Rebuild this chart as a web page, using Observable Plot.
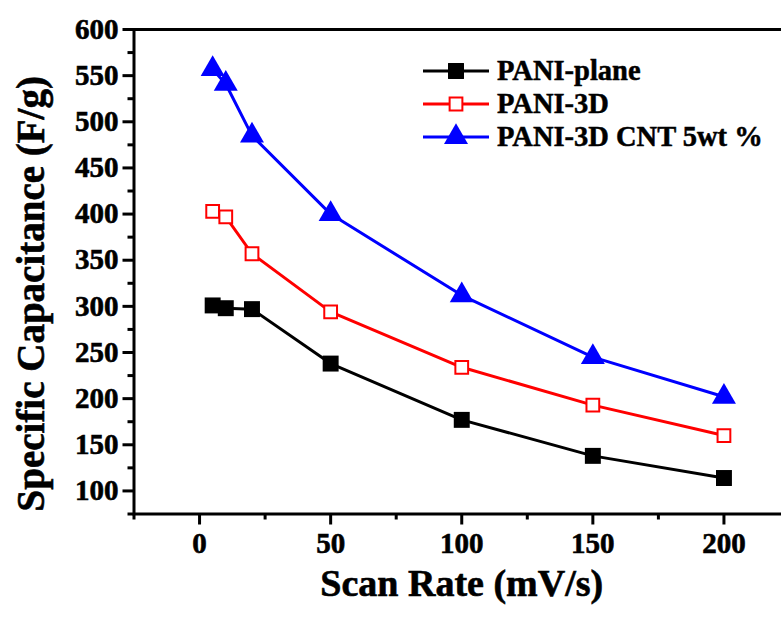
<!DOCTYPE html>
<html><head><meta charset="utf-8">
<script src="https://cdn.jsdelivr.net/npm/d3@7"></script>
<script src="https://cdn.jsdelivr.net/npm/@observablehq/plot@0.6"></script>
<style>
html,body{margin:0;padding:0;background:#fff;overflow:hidden;}
#wrap{position:relative;width:781px;height:617px;overflow:hidden;}
#chart svg text{stroke:#000;stroke-width:0.6px;}
#legend{position:absolute;left:421px;top:54px;font-family:"Liberation Serif","Times New Roman",serif;font-weight:bold;font-size:28.5px;color:#000;-webkit-text-stroke:0.5px #000;}
.row{display:flex;align-items:center;height:33.3px;}
.row svg{display:block;margin-right:7px;}
</style></head><body>
<div id="wrap"><div id="chart"></div><div id="legend"></div></div>
<script>
const scanRate = [5, 10, 20, 50, 100, 150, 200];
const planeValues = [301, 298, 297, 238, 177, 138, 114];
const pani3dValues = [403, 397, 357, 294, 234, 193, 160];
const cntValues = [557, 541, 485, 400, 312, 245, 202];
const seriesNames = ["PANI-plane", "PANI-3D", "PANI-3D CNT 5wt %"];
const seriesColors = ["#000000", "#ff0000", "#0000ff"];
const seriesSymbols = ["square", "square", "triangle"];
const seriesFills = ["#000000", "#ffffff", "#0000ff"];
const xTicks = [0, 50, 100, 150, 200];
const xMinorTicks = [-25, 25, 75, 125, 175, 225];
const yTicks = [100, 150, 200, 250, 300, 350, 400, 450, 500, 550, 600];
const yMinorTicks = [75, 125, 175, 225, 275, 325, 375, 425, 475, 525, 575];
const xTitle = "Scan Rate (mV/s)";
const yTitle = "Specific Capacitance (F/g)";

const allValues = [planeValues, pani3dValues, cntValues];
const rows = [];
allValues.forEach((vals, s) => vals.forEach((v, i) => rows.push({series: seriesNames[s], rate: scanRate[i], value: v})));

const font = '"Liberation Serif","Times New Roman",serif';
const marks = [];
seriesNames.forEach((name, s) => {
  const data = rows.filter(r => r.series === name);
  marks.push(Plot.line(data, {x: "rate", y: "value", stroke: seriesColors[s], strokeWidth: 3}));
  marks.push(Plot.dot(data, {
    x: "rate", y: "value", symbol: seriesSymbols[s],
    r: s === 0 ? 9 : (s === 1 ? 7.2 : 8.9),
    fill: seriesFills[s], stroke: s === 1 ? seriesColors[s] : "none", strokeWidth: 2, fillOpacity: 1
  }));
});

const chart = Plot.plot({
  width: 781, height: 617,
  marginLeft: 133.5, marginRight: -8, marginTop: 29, marginBottom: 103.5,
  style: {fontFamily: font, fontWeight: "bold", fontSize: "29px", background: "white", color: "black", overflow: "hidden"},
  x: {domain: [-25, 225], label: null},
  y: {domain: [75, 600], label: null},
  marks: [
    Plot.frame({stroke: "black", strokeWidth: 3}),
    Plot.axisY({ticks: yMinorTicks, tickSize: 6, strokeWidth: 3, tickFormat: () => "", label: null}),
    Plot.axisY({ticks: yTicks, tickSize: 11, tickPadding: 4.5, strokeWidth: 3, label: null, tickFormat: d => String(d)}),
    Plot.axisX({ticks: xMinorTicks, tickSize: 6, strokeWidth: 3, tickFormat: () => "", label: null}),
    Plot.axisX({ticks: xTicks, tickSize: 11, tickPadding: 7, strokeWidth: 3, label: null, tickFormat: d => String(d)}),
    Plot.text([xTitle], {text: d => d, frameAnchor: "bottom", dy: 82, fontSize: 38, fontWeight: "bold"}),
    Plot.text([yTitle], {text: d => d, frameAnchor: "left", textAnchor: "middle", dx: -102.5, dy: 22, rotate: -90, fontSize: 39, fontWeight: "bold"}),
    ...marks
  ]
});
document.getElementById("chart").appendChild(chart);

// legend
const legend = d3.select("#legend");
seriesNames.forEach((name, s) => {
  const row = legend.append("div").attr("class", "row");
  const svg = row.append("svg").attr("width", 69).attr("height", 30);
  svg.append("line").attr("x1", 2).attr("x2", 68).attr("y1", 15).attr("y2", 15)
    .attr("stroke", seriesColors[s]).attr("stroke-width", 3);
  const r = s === 0 ? 9 : (s === 1 ? 7.2 : 8.9);
  svg.append("path").attr("transform", "translate(35,15)")
    .attr("d", d3.symbol(s === 2 ? d3.symbolTriangle : d3.symbolSquare, Math.PI * r * r)())
    .attr("fill", seriesFills[s]).attr("stroke", s === 1 ? seriesColors[s] : "none").attr("stroke-width", 2);
  row.append("span").text(name);
});
</script>
</body></html>
